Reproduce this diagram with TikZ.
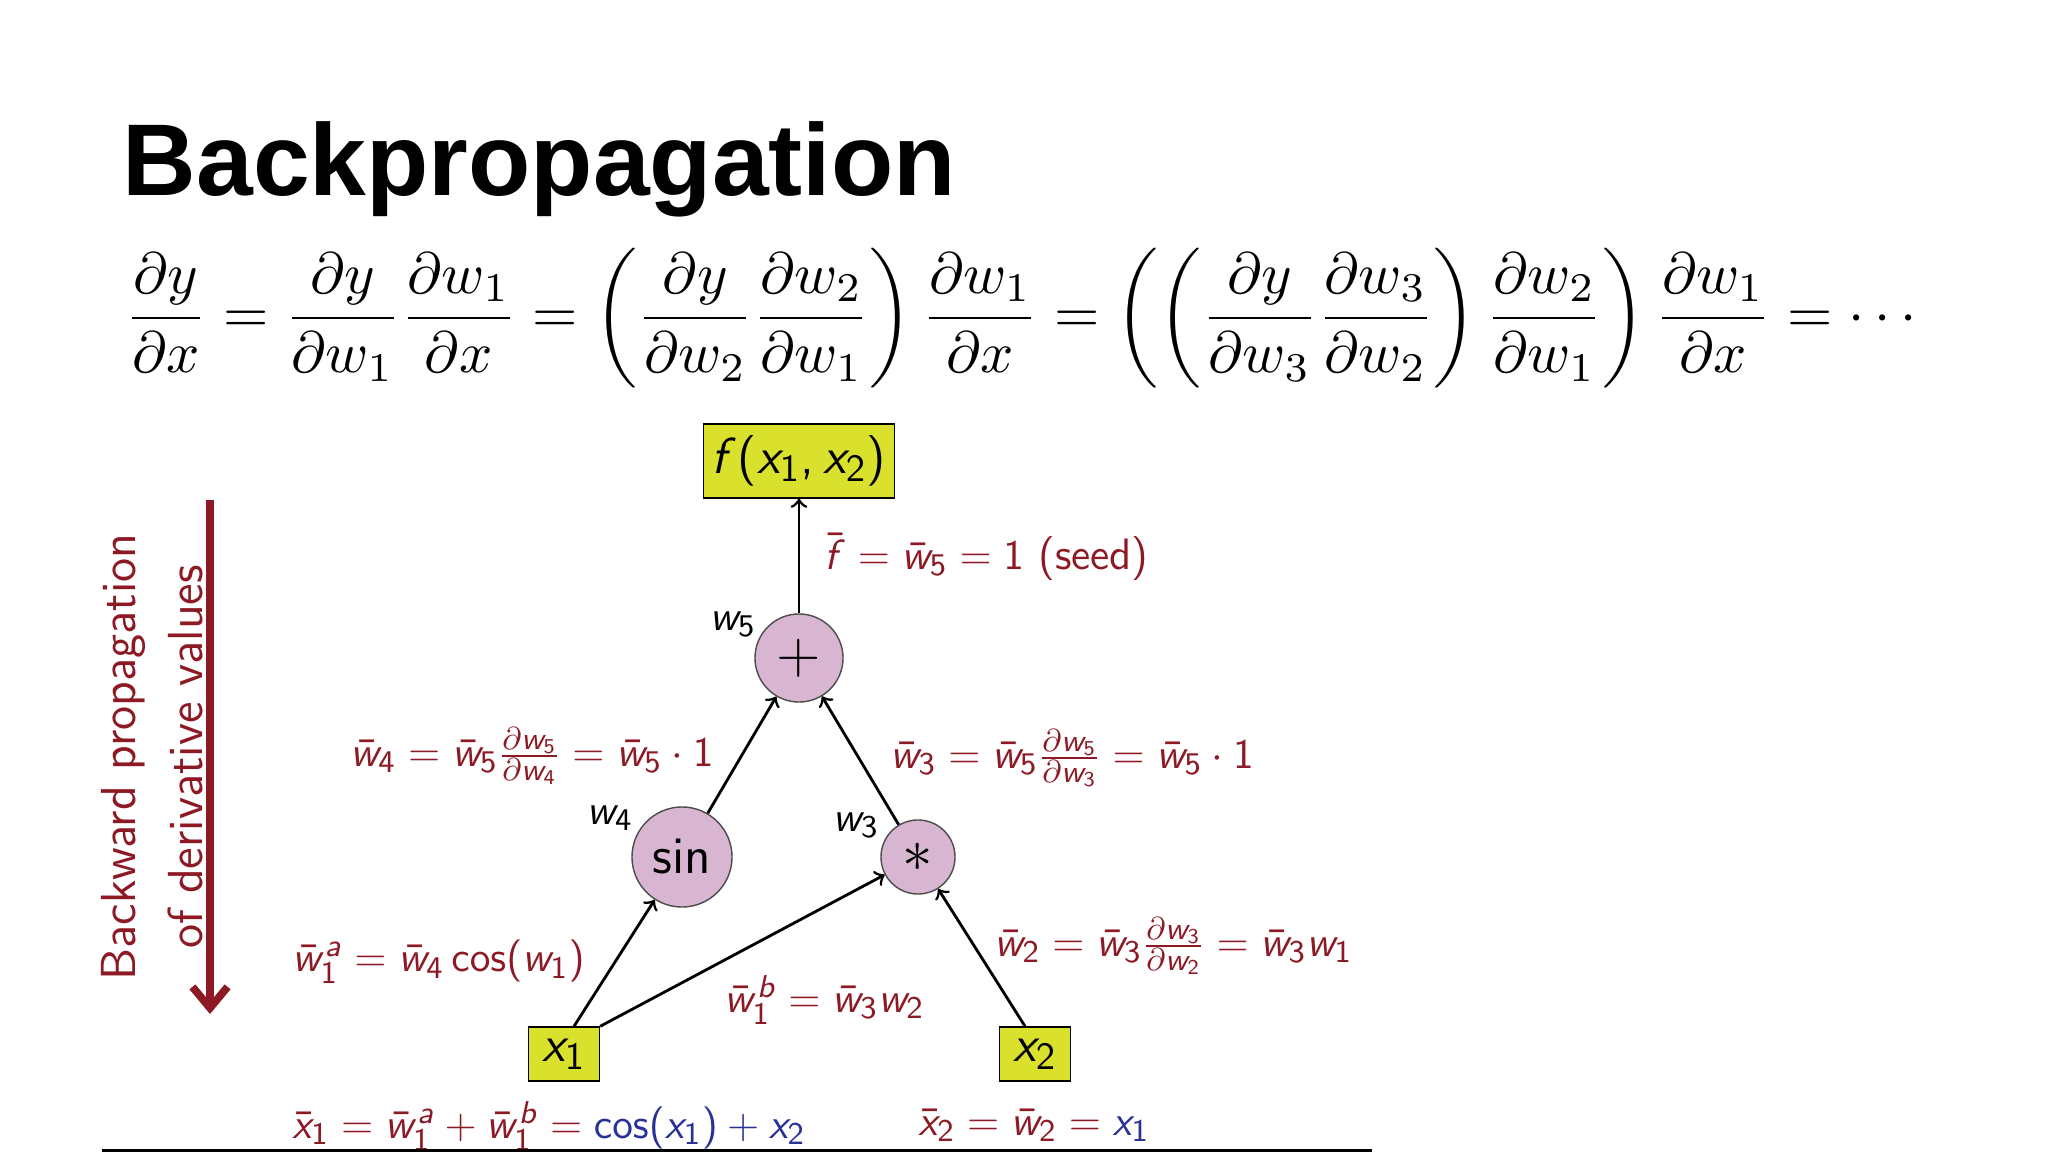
\documentclass[tikz,border=0pt]{standalone}
\usepackage{amsmath}
\usepackage[no-math]{fontspec}
\newfontfamily\titlefont{Liberation Sans}
\usepackage{graphicx}
\usetikzlibrary{arrows.meta}
\DeclareMathVersion{sfv}
\SetSymbolFont{letters}{sfv}{OT1}{cmss}{m}{sl}
\SetSymbolFont{operators}{sfv}{OT1}{cmss}{m}{n}
\DeclareSymbolFont{origletters}{OML}{cmm}{m}{it}
\DeclareMathSymbol{\opartial}{\mathord}{origletters}{"40}
\DeclareMathSymbol{\sfcomma}{\mathpunct}{operators}{"2C}
\definecolor{mred}{RGB}{140,25,35}
\definecolor{mblue}{RGB}{40,50,150}
\definecolor{ybox}{RGB}{218,225,45}
\definecolor{pinkc}{RGB}{216,182,210}
\begin{document}
\begin{tikzpicture}[x=0.01cm,y=-0.01cm,
  lab/.style={font=\fontsize{12.5}{14}\selectfont\mathversion{sfv}\sffamily},
  rl/.style={lab,text=mred},
  ybx/.style={draw=black,fill=ybox,inner sep=0pt,lab},
  op/.style={circle,draw=black!70,fill=pinkc,inner sep=0pt,lab},
  ar/.style={->,>=to,thick}]
\useasboundingbox (0,0) rectangle (2048,1152);
\node[anchor=base west,inner sep=0,font=\titlefont\bfseries\fontsize{29}{34}\selectfont] (title) at (122,196) {Backpropagation};
\node[inner sep=0] (eq) at (1026,318) {\resizebox{18cm}{!}{$\displaystyle \frac{\partial y}{\partial x}=\frac{\partial y}{\partial w_1}\frac{\partial w_1}{\partial x}=\left(\frac{\partial y}{\partial w_2}\frac{\partial w_2}{\partial w_1}\right)\frac{\partial w_1}{\partial x}=\left(\left(\frac{\partial y}{\partial w_3}\frac{\partial w_3}{\partial w_2}\right)\frac{\partial w_2}{\partial w_1}\right)\frac{\partial w_1}{\partial x}=\cdots$}};
% nodes
\node[ybx,minimum width=1.91cm,minimum height=0.74cm] (f) at (799,461) {\fontsize{15}{18}\selectfont$f(x_1\sfcomma x_2)$};
\node[op,minimum size=0.88cm] (p) at (799,658) {\fontsize{16}{18}\selectfont$+$};
\node[op,minimum size=1.0cm] (s) at (682,857) {\fontsize{15}{18}\selectfont sin};
\node[op,minimum size=0.74cm] (m) at (918,857) {\fontsize{16}{18}\selectfont$*$};
\node[ybx,minimum width=0.71cm,minimum height=0.54cm] (x1) at (564,1054) {\fontsize{15}{18}\selectfont$x_1$};
\node[ybx,minimum width=0.71cm,minimum height=0.54cm] (x2) at (1035,1054) {\fontsize{15}{18}\selectfont$x_2$};
\coordinate (x1a) at ([xshift=0.1cm]x1.north);
\coordinate (x2a) at ([xshift=-0.1cm]x2.north);
\draw[ar] (p) -- (f);
\draw[ar] (s) -- (p);
\draw[ar] (m) -- (p);
\draw[ar] (x1a) -- (s);
\draw[ar] (x1.north east) -- (m);
\draw[ar] (x2a) -- (m);
% labels
\node[lab] (l5) at (733,624) {$w_5$};
\node[lab] (l4) at (610,818) {$w_4$};
\node[lab] (l3) at (856,825) {$w_3$};
\node[rl,anchor=west] (fb) at (812,557) {$\bar f=\bar w_5=1$ (seed)};
\node[rl,anchor=east] (w4b) at (726,756) {$\bar w_4=\bar w_5\frac{\opartial w_5}{\opartial w_4}=\bar w_5\cdot 1$};
\node[rl,anchor=west] (w3b) at (878,758) {$\bar w_3=\bar w_5\frac{\opartial w_5}{\opartial w_3}=\bar w_5\cdot 1$};
\node[rl,anchor=west] (w1a) at (280,962) {$\bar w_1^a=\bar w_4\cos(w_1)$};
\node[rl,anchor=west] (w1b) at (712,1000) {$\bar w_1^b=\bar w_3 w_2$};
\node[rl,anchor=west] (w2b) at (982,946) {$\bar w_2=\bar w_3\frac{\opartial w_3}{\opartial w_2}=\bar w_3 w_1$};
\node[rl,anchor=west] (x1b) at (280,1126) {$\bar x_1=\bar w_1^a+\bar w_1^b=\textcolor{mblue}{\cos(x_1)+x_2}$};
\node[rl,anchor=west] (x2b) at (906,1126) {$\bar x_2=\bar w_2=\textcolor{mblue}{x_1}$};
\coordinate (la) at (102,1151); \coordinate (lb) at (1372,1151);
\draw[line width=1.2pt] (la) -- (lb);
% left arrow
\coordinate (ra) at (210,500); \coordinate (rb) at (210,1014);
\draw[mred,line width=2.2pt,-{Straight Barb[length=6pt,width=10pt]}] (ra) -- (rb);
\node[rotate=90,text=mred,font=\sffamily\fontsize{14}{19}\selectfont,align=center] (side) at (152,757) {Backward propagation\\of derivative values};
\end{tikzpicture}
\end{document}
